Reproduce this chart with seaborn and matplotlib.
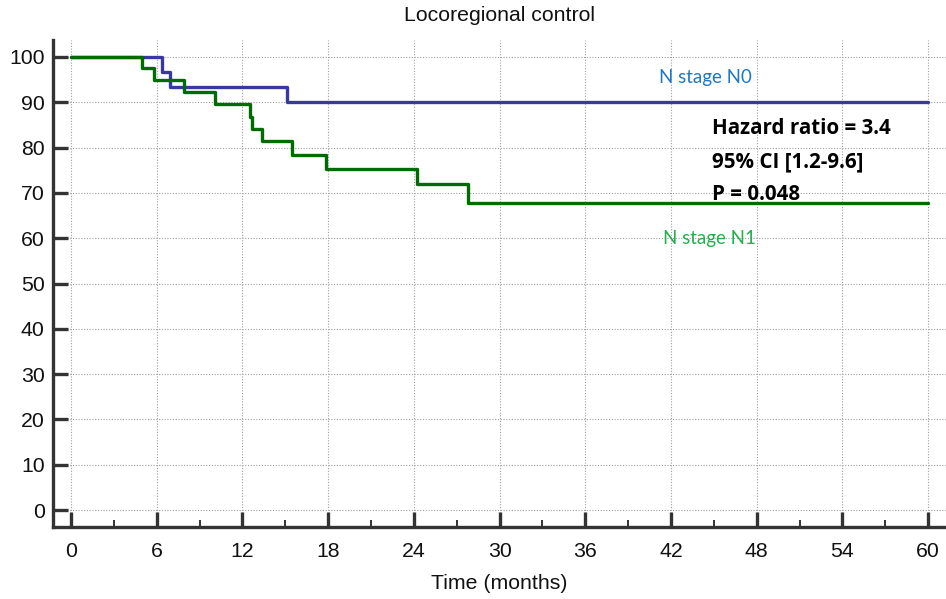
import pandas as pd
import seaborn as sns
import matplotlib.pyplot as plt
from matplotlib.ticker import MultipleLocator

# Kaplan-Meier step values
n0_time = [0, 6.4, 6.9, 15.1, 60]
n0_surv = [100, 96.7, 93.3, 90.0, 90.0]
n1_time = [0, 4.95, 5.8, 7.9, 10.05, 12.55, 12.7, 13.4, 15.45, 17.85, 24.2, 27.8, 60]
n1_surv = [100, 97.5, 94.9, 92.3, 89.7, 86.8, 84.1, 81.5, 78.4, 75.3, 71.9, 67.8, 67.8]
groups = ["N stage N0", "N stage N1"]
stats_lines = ["Hazard ratio = 3.4", "95% CI [1.2-9.6]", "P = 0.048"]

df = pd.concat([
    pd.DataFrame({"time": n0_time, "surv": n0_surv, "group": groups[0]}),
    pd.DataFrame({"time": n1_time, "surv": n1_surv, "group": groups[1]}),
])

sns.set_style("white")
plt.rcParams['font.family'] = ['Liberation Sans', 'DejaVu Sans']

fig = plt.figure(figsize=(9.46, 5.99), dpi=100)
ax = fig.add_axes([53/946, 1 - 527/599, (946 - 53)/946, (527 - 40)/599])

sns.lineplot(data=df, x="time", y="surv", hue="group", hue_order=groups,
             palette=["#3838a0", "#006b00"], drawstyle="steps-post",
             estimator=None, linewidth=2.4, legend=False, ax=ax)

ax.set_xlim(-1.26, 61.25)
ax.set_ylim(-3.75, 103.75)
ax.set_xticks(range(0, 61, 6))
ax.set_yticks(range(0, 101, 10))
ax.xaxis.set_minor_locator(MultipleLocator(3))

ax.grid(True, which="major", linestyle=(0, (1, 1.5)), color="#a0a0a0", linewidth=0.8)
for s in ["top", "right"]:
    ax.spines[s].set_visible(False)
for s in ["left", "bottom"]:
    ax.spines[s].set_color("#333333")
    ax.spines[s].set_linewidth(2.4)

ax.tick_params(axis="both", which="major", direction="in", length=11, width=2.4,
               color="#333333", labelsize=15.3, labelcolor="#111111",
               bottom=True, left=True)
ax.tick_params(axis="x", which="minor", direction="in", length=5, width=1.4,
               color="#333333", bottom=True)
ax.tick_params(axis="x", pad=11)
ax.tick_params(axis="y", pad=6)

ax.set_title("Locoregional control", fontsize=15.3, pad=14, color="#111111")
ax.set_xlabel("Time (months)", fontsize=15.3, labelpad=9, color="#111111")
ax.set_ylabel("")

lab_font = ['Lato', 'DejaVu Sans']
stat_font = ['Open Sans', 'DejaVu Sans']
ax.text(44.4, 95.4, groups[0], color="#1e78c8", fontsize=13.5, ha="center", va="center", family=lab_font)
ax.text(44.7, 60.0, groups[1], color="#22b04c", fontsize=13.5, ha="center", va="center", family=lab_font)
for i, line in enumerate(stats_lines):
    ax.text(44.9, 84.2 - i * 7.3, line, color="black", fontsize=14.8, fontweight="bold",
            ha="left", va="center", family=stat_font)

fig.savefig("out.png", dpi=100)
